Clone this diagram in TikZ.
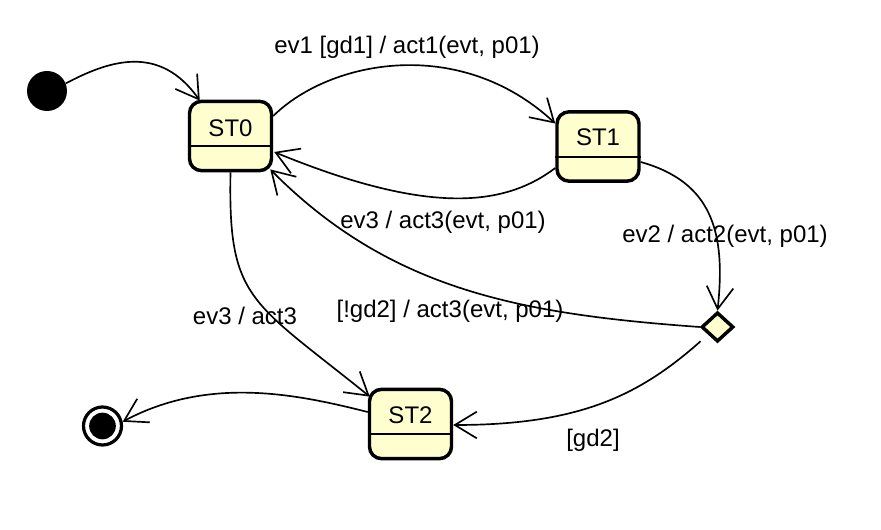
\documentclass[tikz,border=0pt]{standalone}
\usepackage{fontspec}
\setmainfont{Liberation Sans}
\usetikzlibrary{arrows.meta,shapes.geometric,calc}
\definecolor{statefill}{HTML}{FEFECE}
\tikzset{
  statebox/.style={draw=black, fill=statefill, line width=2.6pt, rounded corners=9pt,
    minimum width=61.5pt, minimum height=52pt, inner sep=0pt},
  choicebox/.style={draw=black, fill=statefill, line width=2.6pt, shape=diamond,
    minimum width=24pt, minimum height=22pt, inner sep=0pt},
  lbl/.style={font=\fontsize{18}{21}\selectfont, anchor=base, inner sep=0pt},
  sep/.style={line width=1.1pt},
  edge/.style={line width=1.25pt, -{Straight Barb[length=16.5pt,width=20pt,line width=1.25pt]}},
}
\begin{document}
\begin{tikzpicture}[x=0.75pt,y=-0.75pt]
\useasboundingbox (0,0) rectangle (881,530);
% initial and final pseudostates
\node[circle, fill=black, minimum size=30pt, inner sep=0pt] (init) at (47,91) {};
\node[circle, draw=black, fill=white, line width=2.4pt, minimum size=28.5pt, inner sep=0pt] (fin) at (102.5,426) {};
\node[circle, fill=black, minimum size=20pt, inner sep=0pt] (finin) at (fin.center) {};
% states
\node[statebox] (st0) at (230.5,136) {};
\node[statebox] (st1) at (598,146.5) {};
\node[statebox] (st2) at (410.5,424) {};
\draw[sep] ($(st0.west)+(0,10)$) -- ($(st0.east)+(0,10)$);
\draw[sep] ($(st1.west)+(0,10.5)$) -- ($(st1.east)+(0,10.5)$);
\draw[sep] ($(st2.west)+(0,10)$) -- ($(st2.east)+(0,10)$);
\node[lbl] (st0t) at (230.5,136.5) {ST0};
\node[lbl] (st1t) at (598,146) {ST1};
\node[lbl] (st2t) at (410.5,424) {ST2};
% choice
\node[choicebox] (dia) at (717.5,327) {};
% transitions
\draw[edge] (init.22) .. controls (110,60) and (160,44) .. ($(st0.north west)+(12,1)$);
\draw[edge] ($(st0.east)+(0,-20)$) .. controls (330,60) and (460,35) .. ($(st1.west)+(0,-23)$);
\draw[edge] ($(st1.west)+(0,21.5)$) .. controls (505,206) and (430,216) .. ($(st0.east)+(1,16)$);
\draw[edge] ($(st1.east)+(0,15.5)$) .. controls (712,182) and (726,232) .. (dia.north);
\draw[edge] (dia.west) .. controls (520,314) and (390,290) .. ($(st0.south east)+(-3,-3)$);
\draw[edge] ($(dia.south west)+(-8,6)$) .. controls (640,395) and (580,425) .. ($(st2.east)+(0,1)$);
\draw[edge] (st0.south) .. controls (228,300) and (250,300) .. ($(st2.north west)+(2,9)$);
\draw[edge] ($(st2.west)+(0,-12)$) .. controls (300,395) and (210,375) .. (fin.12);
% labels
\node[lbl] (l1) at (407,54) {ev1 [gd1] / act1(evt, p01)};
\node[lbl] (l2) at (443,229) {ev3 / act3(evt, p01)};
\node[lbl] (l3) at (725,243) {ev2 / act2(evt, p01)};
\node[lbl] (l4) at (245,325) {ev3 / act3};
\node[lbl] (l5) at (450,318) {[!gd2] / act3(evt, p01)};
\node[lbl] (l6) at (593,446) {[gd2]};
\end{tikzpicture}
\end{document}
